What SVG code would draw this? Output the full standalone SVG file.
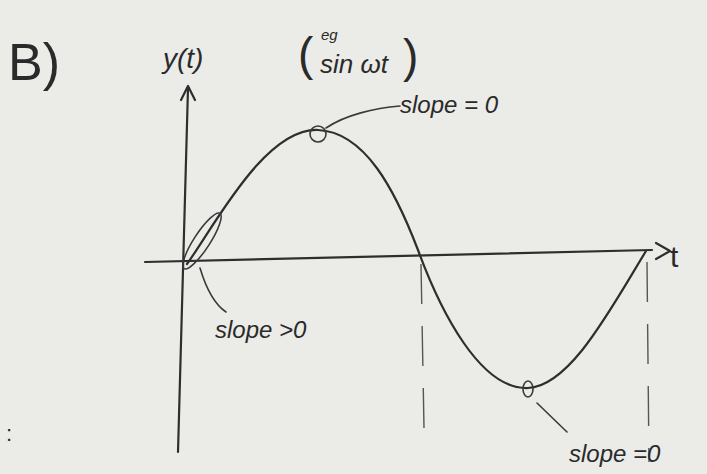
<svg xmlns="http://www.w3.org/2000/svg" width="707" height="474" viewBox="0 0 707 474">
<style>
.ink{fill:none;stroke:#2e2e2e;stroke-width:2.2;stroke-linecap:round;stroke-linejoin:round}
.thin{fill:none;stroke:#3a3a3a;stroke-width:1.6;stroke-linecap:round}
.dash{fill:none;stroke:#555;stroke-width:1.4;stroke-dasharray:40 22}
.t{font-family:"Liberation Sans",sans-serif;fill:#2a2a2a;font-style:italic}
</style>
<rect width="707" height="474" fill="#ebebe8"/>
<g id="labels">
<text class="t" x="8" y="80" font-size="52" style="font-style:normal">B)</text>
<text class="t" x="163" y="68" font-size="28">y(t)</text>
<text class="t" x="298" y="70" font-size="46" style="font-style:normal">(</text>
<text class="t" x="321" y="40" font-size="15">eg</text>
<text class="t" x="320" y="73" font-size="26">sin ωt</text>
<text class="t" x="403" y="72" font-size="46" style="font-style:normal">)</text>
<text class="t" x="6" y="441" font-size="22" style="font-style:normal">:</text>
</g>
<g id="axes">
<path class="ink" d="M188 88 L178 452"/>
<path class="ink" d="M181 100 L188 86 L195 100"/>
<path class="ink" d="M145 262 L652 250"/>
<path class="ink" d="M656 243 L670 251 L656 259"/>
<text class="t" x="670" y="267" font-size="30" style="font-style:normal">t</text>
</g>
<g id="curve">
<path class="ink" d="M187 264 C215 225 265 128 318 130 C365 132 395 190 418 250 C440 310 480 390 528 388 C570 386 610 310 646 251"/>
</g>
<g id="dashes">
<path class="dash" d="M421 264 L424 428"/>
<path class="dash" d="M647 262 L649 462"/>
</g>
<g id="origin-note">
<ellipse class="thin" cx="202" cy="241" rx="33" ry="8" transform="rotate(-57 202 241)"/>
<path class="thin" d="M200 268 C206 288 214 304 226 312"/>
<text class="t" x="215" y="338" font-size="24">slope &gt;0</text>
</g>
<g id="peak-note">
<ellipse class="thin" cx="318" cy="134" rx="8" ry="8"/>
<path class="thin" d="M326 128 C345 115 375 108 400 106"/>
<text class="t" x="400" y="113" font-size="24">slope = 0</text>
</g>
<g id="trough-note">
<ellipse class="thin" cx="528" cy="389" rx="5" ry="8"/>
<path class="thin" d="M537 403 L567 432"/>
<text class="t" x="569" y="462" font-size="24">slope =0</text>
</g>
</svg>
